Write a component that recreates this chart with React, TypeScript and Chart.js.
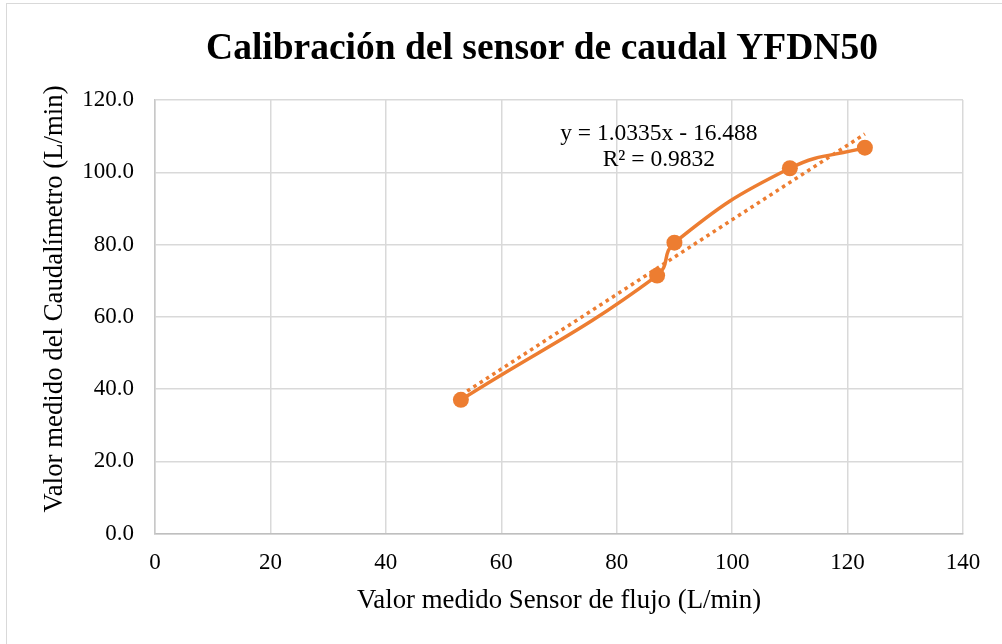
import React, { useEffect, useRef } from "react";
import { Chart, registerables } from "chart.js";

Chart.register(...registerables);

// ---- data ----
const sensorFlow = [53, 87, 90, 110, 123];
const meterFlow = [37.0, 71.4, 80.5, 101.1, 106.8];
const trendX = [53, 123];
const trendY = [38.3, 110.6];
const equationLines = ["y = 1.0335x - 16.488", "R² = 0.9832"];
const xTickValues = [0, 20, 40, 60, 80, 100, 120, 140];
const yTickValues = [0, 20, 40, 60, 80, 100, 120];
const chartTitle = "Calibración del sensor de caudal YFDN50";
const xTitle = "Valor medido Sensor de flujo (L/min)";
const yTitle = "Valor medido del Caudalímetro (L/min)";

const SERIF = "'Liberation Serif', 'Times New Roman', serif";
const ORANGE = "#ED7D31";

const textPlugin = {
  id: "customText",
  afterDraw(chart: any) {
    const ctx = chart.ctx;
    const xs = chart.scales.x;
    const ys = chart.scales.y;
    ctx.save();
    ctx.fillStyle = "#000";
    // title
    ctx.font = `bold 37.5px ${SERIF}`;
    ctx.textAlign = "center";
    ctx.textBaseline = "middle";
    ctx.fillText(chartTitle, 542, 49);
    // y axis title
    ctx.save();
    ctx.translate(55, 299);
    ctx.rotate(-Math.PI / 2);
    ctx.font = `26.8px ${SERIF}`;
    ctx.fillText(yTitle, 0, 0);
    ctx.restore();
    // equation label
    ctx.font = `23.5px ${SERIF}`;
    const cx = xs.getPixelForValue(87.3);
    ctx.fillText(equationLines[0], cx, ys.getPixelForValue(110.6));
    ctx.fillText(equationLines[1], cx, ys.getPixelForValue(103.4));
    ctx.restore();
  },
};

export default function App() {
  const ref = useRef<HTMLCanvasElement | null>(null);

  useEffect(() => {
    if (!ref.current) return;
    const chart = new Chart(ref.current, {
      type: "scatter",
      data: {
        datasets: [
          {
            label: "Calibración",
            data: sensorFlow.map((x, i) => ({ x, y: meterFlow[i] })),
            showLine: true,
            borderColor: ORANGE,
            backgroundColor: ORANGE,
            borderWidth: 3.5,
            tension: 0.45,
            pointRadius: 8,
            pointBorderWidth: 0,
            pointBackgroundColor: ORANGE,
          },
          {
            label: "Lineal",
            data: trendX.map((x, i) => ({ x, y: trendY[i] })),
            showLine: true,
            borderColor: ORANGE,
            borderWidth: 3.5,
            borderDash: [3.5, 4],
            pointRadius: 0,
            tension: 0,
          },
        ],
      },
      options: {
        responsive: false,
        animation: false,
        layout: { padding: { top: 100, right: 39, left: 0, bottom: 0 } },
        plugins: {
          legend: { display: false },
          tooltip: { enabled: false },
          title: { display: false },
        },
        scales: {
          x: {
            type: "linear",
            min: 0,
            max: 140,
            afterBuildTicks: (s: any) => {
              s.ticks = xTickValues.map((v) => ({ value: v }));
            },
            afterFit: (s: any) => {
              s.height = 110.5;
            },
            ticks: {
              font: { family: SERIF, size: 23 },
              color: "#000",
              padding: 16,
              maxRotation: 0,
            },
            grid: { color: "#d9d9d9", lineWidth: 1.5, drawTicks: false },
            border: { color: "#bfbfbf", width: 1.5 },
            title: {
              display: true,
              text: xTitle,
              color: "#000",
              font: { family: SERIF, size: 26.8 },
              padding: { top: 0, bottom: 27 },
            },
          },
          y: {
            type: "linear",
            min: 0,
            max: 120,
            afterBuildTicks: (s: any) => {
              s.ticks = yTickValues.map((v) => ({ value: v }));
            },
            afterFit: (s: any) => {
              s.width = 155;
            },
            ticks: {
              font: { family: SERIF, size: 23 },
              color: "#000",
              padding: 21,
              callback: (v: any) => Number(v).toFixed(1),
            },
            grid: { color: "#d9d9d9", lineWidth: 1.5, drawTicks: false },
            border: { color: "#c8c8c8", width: 1.5 },
          },
        },
      },
      plugins: [textPlugin],
    } as any);
    return () => chart.destroy();
  }, []);

  return (
    <div
      style={{
        position: "absolute",
        left: 0,
        top: 0,
        width: 1002,
        height: 644,
        overflow: "hidden",
        background: "#fff",
      }}
    >
      <div
        style={{
          position: "absolute",
          left: 6,
          top: 3,
          width: 1100,
          height: 800,
          border: "1.5px solid #d9d9d9",
          boxSizing: "border-box",
        }}
      />
      <canvas
        ref={ref}
        width={1002}
        height={644}
        style={{ position: "absolute", left: 0, top: 0, width: 1002, height: 644 }}
      />
    </div>
  );
}
